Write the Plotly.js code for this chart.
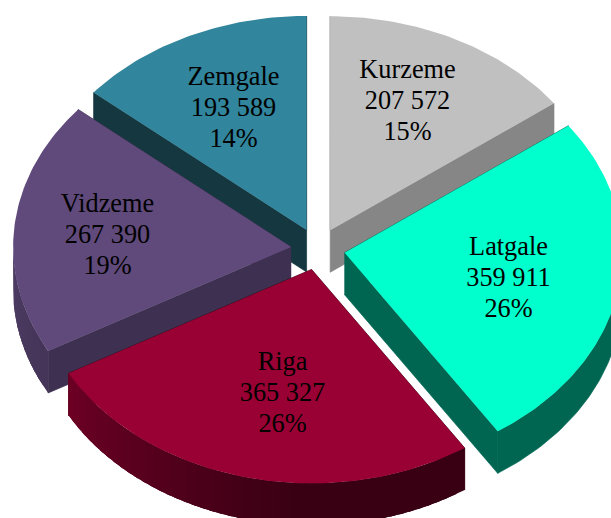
<!DOCTYPE html>
<html>
<head>
<meta charset="utf-8">
<script src="https://cdn.plot.ly/plotly-3.0.1.min.js"></script>
<style>html,body{margin:0;padding:0;background:#fff;overflow:hidden}#chart{width:611px;height:518px}</style>
</head>
<body>
<div id="chart"></div>
<script>
// Data
const regions = ["Kurzeme", "Latgale", "Riga", "Vidzeme", "Zemgale"];
const population = [207572, 359911, 365327, 267390, 193589];

// Styling
const faceColors = [[192,192,192],[0,255,204],[153,0,51],[96,74,123],[49,133,156]];
const edgeShade = [0.70, 0.40, 0.40, 0.65, 0.41];
const labelCentersX = [407.5, 508.5, 282.5, 107.5, 233.5];
const labelCentersY = [102, 279, 394, 236, 109];

// Projection of the tilted exploded pie
const cx = 318, cy = 249, rx = 278, ry = 214, depth = 42, pullX = 27, pullY = 21;
const lineGap = 31, fontSize = 26.3;

const rgb = (c, s) => `rgb(${c.map(v => Math.round(v * s)).join(",")})`;
const rim = (ax, ay, t) => [ax + rx * Math.sin(t * Math.PI / 180), ay - ry * Math.cos(t * Math.PI / 180)];
function rimShade(t) {
  if (t <= 183) return 0.37;
  if (t <= 241) return 0.37 + (t - 183) / 58 * 0.34;
  return 0.71 + (t - 241) / 29 * 0.11;
}
function poly(pts, color, lineWidth) {
  return {
    type: "scatter", mode: "lines", fill: "toself", fillcolor: color,
    x: pts.map(p => p[0]), y: pts.map(p => p[1]),
    line: {color: color, width: lineWidth || 0},
    hoverinfo: "skip", showlegend: false
  };
}
function arcBand(ax, ay, t1, t2, color, lineWidth) {
  const top = [], bottom = [];
  for (let t = t1; t < t2; t += 1) top.push(rim(ax, ay, t));
  top.push(rim(ax, ay, t2));
  top.forEach(p => bottom.unshift([p[0], p[1] + depth]));
  return poly(top.concat(bottom), color, lineWidth);
}

const total = population.reduce((a, b) => a + b, 0);
let cursor = 0;
const slices = population.map((v, i) => {
  const start = cursor / total * 360;
  cursor += v;
  const end = cursor / total * 360;
  const mid = (start + end) / 2 * Math.PI / 180;
  return {i, start, end, ax: cx + pullX * Math.sin(mid), ay: cy - pullY * Math.cos(mid)};
});

const traces = [];
slices.slice().sort((a, b) => a.ay - b.ay).forEach(s => {
  const color = faceColors[s.i];
  const wall = rgb(color, edgeShade[s.i]);
  [s.start, s.end].forEach(t => {
    const p = rim(s.ax, s.ay, t);
    traces.push(poly([[s.ax, s.ay], p, [p[0], p[1] + depth], [s.ax, s.ay + depth]], wall, 0.7));
  });
  const from = Math.max(s.start, 90), to = Math.min(s.end, 270);
  if (s.i === 1) {
    traces.push(arcBand(s.ax, s.ay, from, to, wall, 0.7));
  } else {
    // Each band runs on under the next one, so no seam shows between them.
    for (let t = from; t < to; t += 2) {
      const shade = rimShade(t + 1);
      traces.push(arcBand(s.ax, s.ay, t, Math.min(t + 5, to), rgb(color, shade)));
    }
  }
  const face = [[s.ax, s.ay]];
  for (let t = s.start; t < s.end; t += 1) face.push(rim(s.ax, s.ay, t));
  face.push(rim(s.ax, s.ay, s.end));
  traces.push(poly(face, rgb(color, 1)));
});

const fmt = n => String(n).replace(/\B(?=(\d{3})+$)/g, " ");
const lx = [], ly = [], lt = [];
regions.forEach((r, i) => {
  [r, fmt(population[i]), Math.round(population[i] / total * 100) + "%"].forEach((txt, k) => {
    lx.push(labelCentersX[i]);
    ly.push(labelCentersY[i] + (k - 1) * lineGap);
    lt.push(txt);
  });
});
traces.push({
  type: "scatter", mode: "text", x: lx, y: ly, text: lt, textposition: "middle center",
  textfont: {family: "Liberation Serif, Times New Roman, serif", size: fontSize, color: "#000"},
  hoverinfo: "skip", showlegend: false
});

Plotly.newPlot("chart", traces, {
  width: 611, height: 518,
  margin: {l: 0, r: 0, t: 0, b: 0},
  paper_bgcolor: "#fff", plot_bgcolor: "#fff",
  showlegend: false,
  xaxis: {range: [0, 611], visible: false, fixedrange: true},
  yaxis: {range: [518, 0], visible: false, fixedrange: true}
}, {displayModeBar: false, staticPlot: true});
</script>
</body>
</html>
